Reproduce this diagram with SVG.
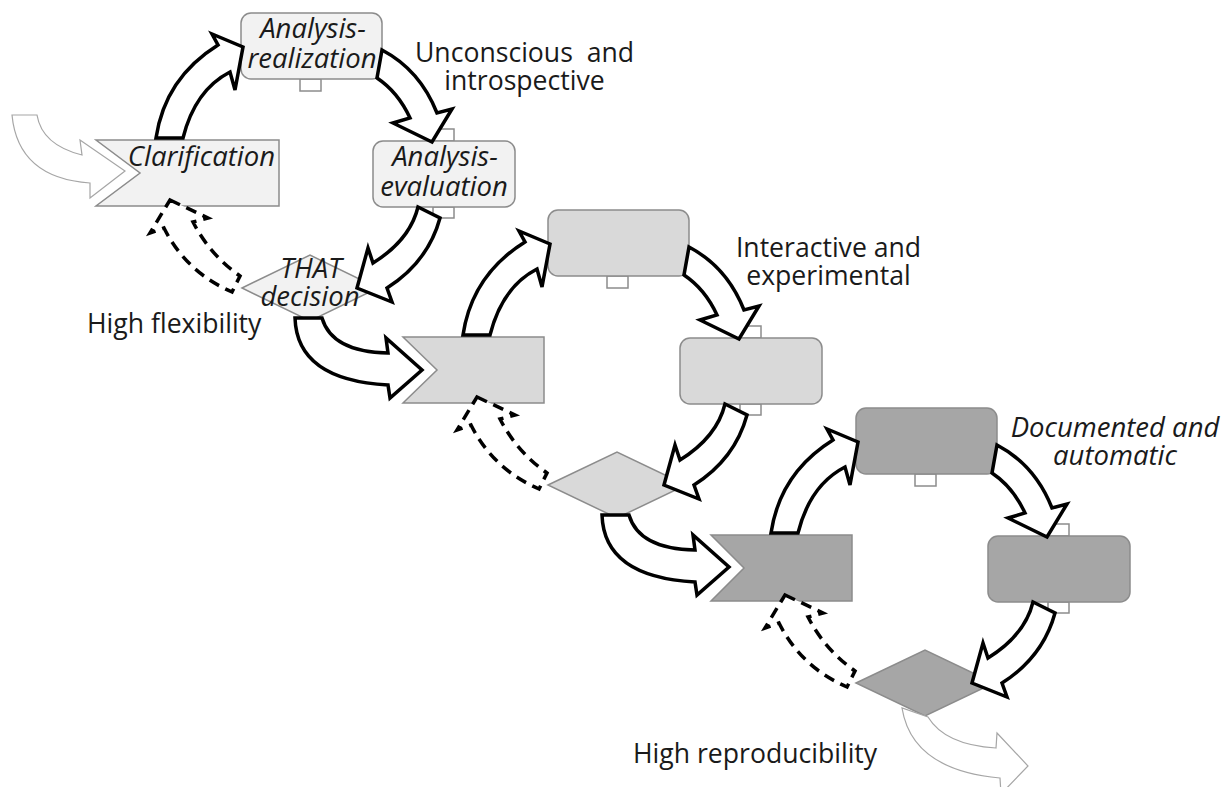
<svg xmlns="http://www.w3.org/2000/svg" width="1231" height="787" viewBox="0 0 1231 787">
<style>
  .shape{stroke:#8c8c8c;stroke-width:1.5}
  .n1{fill:#f2f2f2}
  .n2{fill:#d9d9d9}
  .n3{fill:#a6a6a6}
  .tab{fill:#ffffff;stroke:#8c8c8c;stroke-width:1.5}
  .arrow{fill:#ffffff;stroke:#000000;stroke-width:3.5;stroke-linejoin:miter}
  .dash{fill:#ffffff;stroke:#000000;stroke-width:3.5;stroke-dasharray:11 7}
  .ghost{fill:#ffffff;stroke:#a6a6a6;stroke-width:1.2}
  text{font-family:"Open Sans","Liberation Sans",sans-serif;font-size:26.6px;fill:#1a1a1a}
  .it{font-style:italic;font-size:27.5px}
  .mid{text-anchor:middle}
</style>
<defs>
  <path id="a1" d="M156,138 Q165,78 218,45 L212,34 L243,47 L235,90 L230,72 Q195,90 183,138 Z"/>
  <path id="a2" d="M382,50 Q420,70 437,113 L452,109 L432,142 L393,123 L410,118 Q398,92 377,78 Z"/>
  <path id="a3" d="M418,207 Q410,240 373,263 L368,248 L357,288 L392,302 L387,288 Q428,262 440,218 Z"/>
  <path id="a4" d="M170,200 L208,218 L193,222 Q210,255 240,276 L232,292 Q186,272 164,228 L150,233 Z"/>
  <path id="a5" d="M295,318 Q297,380 388,385 L390,398 L422,370 L386,338 L388,353 Q332,352 322,318 Z"/>
</defs>

<g id="cycle1-nodes">
  <g id="clarification">
    <polygon class="shape n1" points="96,140 279,140 279,206 96,206 140,173"/>
    <text class="it mid" x="201.5" y="166">Clarification</text>
  </g>
  <g id="analysis-realization">
    <rect class="tab" x="300" y="79" width="21" height="12"/>
    <rect class="shape n1" x="241" y="13" width="141" height="66" rx="10"/>
    <text class="it mid" x="313" y="38">Analysis-</text>
    <text class="it mid" x="312" y="68">realization</text>
  </g>
  <g id="analysis-evaluation">
    <rect class="tab" x="433" y="129" width="21" height="12"/>
    <rect class="tab" x="433" y="207" width="21" height="11"/>
    <rect class="shape n1" x="373" y="141" width="142" height="66" rx="10"/>
    <text class="it mid" x="445" y="166">Analysis-</text>
    <text class="it mid" x="444" y="196">evaluation</text>
  </g>
  <g id="that-decision">
    <polygon class="shape n1" points="242,288 310,255 378,288 310,321"/>
    <text class="it mid" x="311" y="278">THAT</text>
    <text class="it mid" x="310" y="306">decision</text>
  </g>
</g>

<g id="cycle2-nodes" transform="translate(307,197)">
  <g id="step2-start">
    <polygon class="shape n2" points="96,140 237,140 237,206 96,206 130,173"/>
  </g>
  <g id="step2-realization">
    <rect class="tab" x="300" y="79" width="21" height="12"/>
    <rect class="shape n2" x="241" y="13" width="141" height="66" rx="10"/>
  </g>
  <g id="step2-evaluation">
    <rect class="tab" x="433" y="129" width="21" height="12"/>
    <rect class="tab" x="433" y="207" width="21" height="11"/>
    <rect class="shape n2" x="373" y="141" width="142" height="66" rx="10"/>
  </g>
  <g id="step2-decision">
    <polygon class="shape n2" points="241,288 310,255 379,288 310,321"/>
  </g>
</g>

<g id="cycle3-nodes" transform="translate(615,395)">
  <g id="step3-start">
    <polygon class="shape n3" points="96,140 237,140 237,206 96,206 129,173"/>
  </g>
  <g id="step3-realization">
    <rect class="tab" x="300" y="79" width="21" height="12"/>
    <rect class="shape n3" x="241" y="13" width="141" height="66" rx="10"/>
  </g>
  <g id="step3-evaluation">
    <rect class="tab" x="433" y="129" width="21" height="12"/>
    <rect class="tab" x="433" y="207" width="21" height="11"/>
    <rect class="shape n3" x="373" y="141" width="142" height="66" rx="10"/>
  </g>
  <g id="step3-decision">
    <polygon class="shape n3" points="241,288 310,255 379,288 310,321"/>
  </g>
</g>

<g id="connectors">
  <path class="ghost" d="M12,115 L37,115 Q42,145 82,155 L80,140 L125,171 L90,198 L90,183 Q18,178 12,115 Z"/>
  <g id="cycle1-arrows">
    <use href="#a1" class="arrow"/>
    <use href="#a2" class="arrow"/>
    <use href="#a3" class="arrow"/>
    <use href="#a4" class="dash"/>
    <use href="#a5" class="arrow"/>
  </g>
  <g id="cycle2-arrows" transform="translate(307,197)">
    <use href="#a1" class="arrow"/>
    <use href="#a2" class="arrow"/>
    <use href="#a3" class="arrow"/>
    <use href="#a4" class="dash"/>
    <use href="#a5" class="arrow"/>
  </g>
  <g id="cycle3-arrows" transform="translate(615,395)">
    <use href="#a1" class="arrow"/>
    <use href="#a2" class="arrow"/>
    <use href="#a3" class="arrow"/>
    <use href="#a4" class="dash"/>
  </g>
  <path class="ghost" d="M902,708 Q912,770 1000,778 L1001,794 L1028,766 L997,733 L996,748 Q945,745 928,717 Z"/>
</g>

<g id="labels">
  <text class="mid" x="524.5" y="62">Unconscious&#160; and</text>
  <text class="mid" x="524.5" y="90">introspective</text>
  <text class="mid" x="828.5" y="257">Interactive and</text>
  <text class="mid" x="828.5" y="285">experimental</text>
  <text class="it mid" x="1115" y="437">Documented and</text>
  <text class="it mid" x="1115" y="465">automatic</text>
  <text x="87" y="333">High flexibility</text>
  <text x="633" y="763">High reproducibility</text>
</g>
</svg>
